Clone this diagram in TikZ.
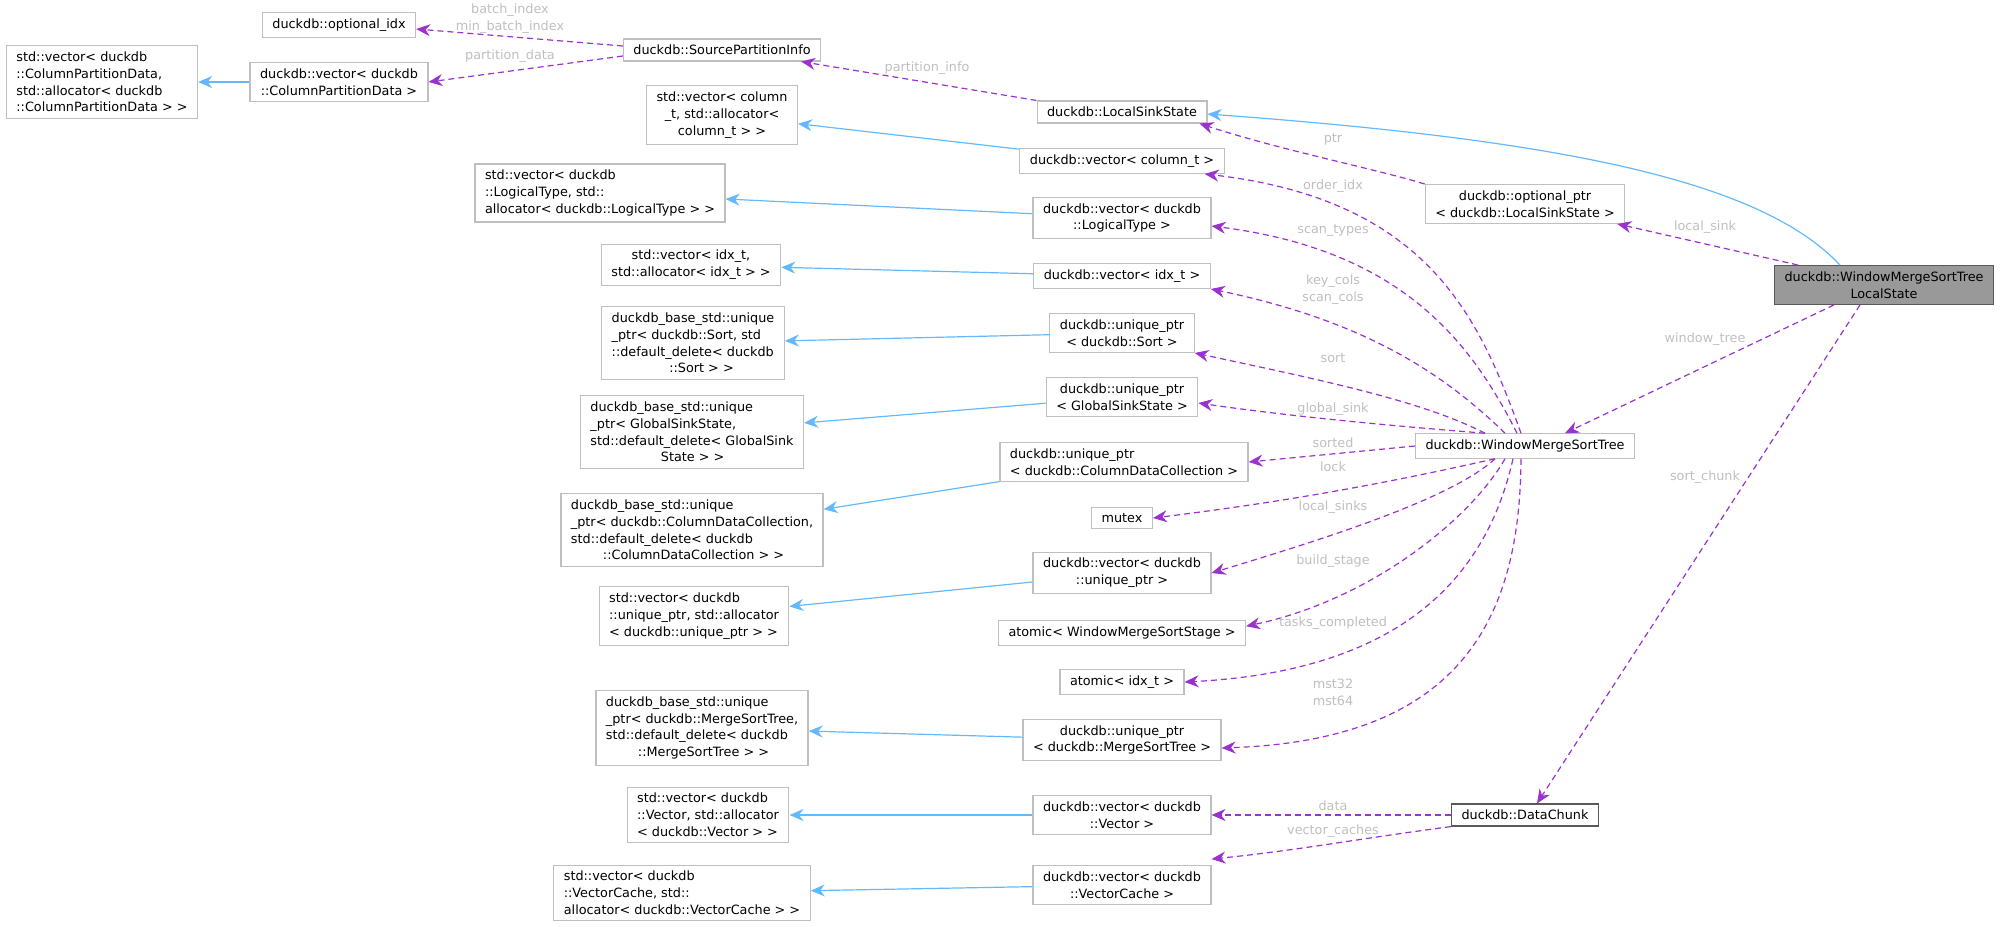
\documentclass[tikz,border=0pt]{standalone}
\usepackage{fontspec}
\setmainfont{DejaVu Sans}
\usetikzlibrary{arrows.meta}
\definecolor{purp}{HTML}{9A32CD}
\definecolor{blu}{HTML}{63B8FF}
\definecolor{bord}{HTML}{BFBFBF}
\definecolor{lbl}{HTML}{BFBFBF}
\begin{document}
\begin{tikzpicture}[x=0.5pt,y=-0.5pt,
  every node/.style={font=\fontsize{6.4}{8.4}\selectfont},
  box/.style={draw=bord, line width=0.6pt, fill=white, align=center, inner xsep=5pt, inner ysep=3pt},
  boxl/.style={box, align=left},
  lab/.style={text=lbl, align=center, inner sep=0pt},
  inh/.style={draw=blu, line width=0.6pt, -{Stealth[length=7pt,width=6pt]}},
  mem/.style={draw=purp, line width=0.6pt, dash pattern=on 3pt off 2pt, -{Stealth[length=7pt,width=6pt]}}]
\useasboundingbox (0,0) rectangle (2000,926);
% right side
\node[box, fill=gray!80!white, draw=gray!70!black] (ls) at (1884,285) {duckdb::WindowMergeSortTree\\LocalState};
\node[box] (wm) at (1525,446) {duckdb::WindowMergeSortTree};
\node[box, draw=gray!70!black] (dc) at (1525,815) {duckdb::DataChunk};
\node[box] (op) at (1525,204) {duckdb::optional\_ptr\\< duckdb::LocalSinkState >};
\node[box] (lss) at (1122,112) {duckdb::LocalSinkState};
\node[box] (spi) at (722,50) {duckdb::SourcePartitionInfo};
\node[box] (oidx) at (339,25) {duckdb::optional\_idx};
\node[box] (vcpd) at (339,82) {duckdb::vector< duckdb\\::ColumnPartitionData >};
\node[boxl] (svcpd) at (102,82) {std::vector< duckdb\\::ColumnPartitionData,\\ std::allocator< duckdb\\::ColumnPartitionData > >};
% middle column
\node[box] (vct) at (1122,161) {duckdb::vector< column\_t >};
\node[box] (vlt) at (1122,218) {duckdb::vector< duckdb\\::LogicalType >};
\node[box] (vit) at (1122,276) {duckdb::vector< idx\_t >};
\node[box] (ups) at (1122,333) {duckdb::unique\_ptr\\< duckdb::Sort >};
\node[box] (upg) at (1122,397) {duckdb::unique\_ptr\\< GlobalSinkState >};
\node[boxl] (upc) at (1124,462) {duckdb::unique\_ptr\\< duckdb::ColumnDataCollection >};
\node[box] (mtx) at (1122,518) {mutex};
\node[box] (vup) at (1122,573) {duckdb::vector< duckdb\\::unique\_ptr >};
\node[box] (aws) at (1122,633) {atomic< WindowMergeSortStage >};
\node[box] (ait) at (1122,682) {atomic< idx\_t >};
\node[box] (upm) at (1122,740) {duckdb::unique\_ptr\\< duckdb::MergeSortTree >};
\node[box] (vv) at (1122,815) {duckdb::vector< duckdb\\::Vector >};
\node[box] (vvc) at (1122,885) {duckdb::vector< duckdb\\::VectorCache >};
% left column
\node[box] (svct) at (722,115) {std::vector< column\\\_t, std::allocator<\\ column\_t > >};
\node[boxl] (svlt) at (600,193) {std::vector< duckdb\\::LogicalType, std::\\allocator< duckdb::LogicalType > >};
\node[box] (svit) at (691,265) {std::vector< idx\_t,\\ std::allocator< idx\_t > >};
\node[boxl] (bups) at (693,343) {duckdb\_base\_std::unique\\\_ptr< duckdb::Sort, std\\::default\_delete< duckdb\\\hspace*{4.5em}::Sort > >};
\node[boxl] (bupg) at (692,432) {duckdb\_base\_std::unique\\\_ptr< GlobalSinkState,\\ std::default\_delete< GlobalSink\\\hspace*{5.5em}State > >};
\node[boxl] (bupc) at (692,530) {duckdb\_base\_std::unique\\\_ptr< duckdb::ColumnDataCollection,\\ std::default\_delete< duckdb\\\hspace*{2.5em}::ColumnDataCollection > >};
\node[boxl] (svup) at (694,616) {std::vector< duckdb\\::unique\_ptr, std::allocator\\< duckdb::unique\_ptr > >};
\node[boxl] (bupm) at (702,728) {duckdb\_base\_std::unique\\\_ptr< duckdb::MergeSortTree,\\ std::default\_delete< duckdb\\\hspace*{2.5em}::MergeSortTree > >};
\node[boxl] (svv) at (708,815) {std::vector< duckdb\\::Vector, std::allocator\\< duckdb::Vector > >};
\node[boxl] (svvc) at (682,893) {std::vector< duckdb\\::VectorCache, std::\\allocator< duckdb::VectorCache > >};
% inheritance
\draw[inh] ([xshift=-22pt]ls.north) .. controls (1760,180) and (1560,140) .. ([yshift=-1pt]lss.east);
\draw[inh] (vcpd) -- (svcpd);
\draw[inh] (vct) -- (svct);
\draw[inh] (vlt) -- (svlt);
\draw[inh] (vit) -- (svit);
\draw[inh] (ups) -- (bups);
\draw[inh] (upg) -- (bupg);
\draw[inh] (upc) -- (bupc);
\draw[inh] (vup) -- (svup);
\draw[inh] (upm) -- (bupm);
\draw[inh] (vv) -- (svv);
\draw[inh] (vvc) -- (svvc);
% members
\draw[mem] ([yshift=2pt]spi.west) -- ([yshift=-2pt]oidx.east);
\draw[mem] ([yshift=-3pt]spi.west) -- (vcpd.east);
\draw[mem] (lss.north west) -- ([xshift=-10pt]spi.south east);
\draw[mem] (op.north west) .. controls (1380,170) and (1280,150) .. ([xshift=-4pt]lss.south east);
\draw[mem] ([xshift=12pt]ls.north west) -- ([xshift=-4pt]op.south east);
\draw[mem] ([xshift=30pt]ls.south west) -- ([xshift=20pt]wm.north);
\draw[mem] ([xshift=-12pt]ls.south) -- ([xshift=6pt]dc.north);
\draw[mem] ([xshift=-2pt]wm.north) .. controls (1480,320) and (1430,200) .. ([xshift=-10pt]vct.south east);
\draw[mem] ([xshift=-4pt]wm.north) .. controls (1470,340) and (1400,250) .. ([yshift=-4pt]vlt.east);
\draw[mem] ([xshift=-10pt]wm.north) .. controls (1440,370) and (1360,320) .. (vit.south east);
\draw[mem] ([xshift=-20pt]wm.north) .. controls (1420,400) and (1320,380) .. (ups.south east);
\draw[mem] ([xshift=35pt]wm.north west) .. controls (1380,425) and (1280,415) .. ([yshift=-3pt]upg.east);
\draw[mem] (wm.west) -- (upc.east);
\draw[mem] ([xshift=40pt]wm.south west) .. controls (1400,480) and (1300,500) .. (mtx.east);
\draw[mem] ([xshift=-15pt]wm.south) .. controls (1450,500) and (1320,540) .. (vup.east);
\draw[mem] ([xshift=-10pt]wm.south) .. controls (1470,520) and (1370,600) .. ([yshift=-3pt]aws.north east);
\draw[mem] ([xshift=-6pt]wm.south) .. controls (1490,560) and (1420,670) .. (ait.east);
\draw[mem] ([xshift=-2pt]wm.south) .. controls (1520,620) and (1460,740) .. ([yshift=-4pt]upm.east);
\draw[mem] (dc.west) -- (vv.east);
\draw[mem] (dc.south west) .. controls (1350,840) and (1300,850) .. ([yshift=3pt]vvc.north east);
% labels
\node[lab] (l1) at (510,19) {batch\_index\\min\_batch\_index};
\node[lab] (l2) at (510,56) {partition\_data};
\node[lab] (l3) at (927,68) {partition\_info};
\node[lab] (l4) at (1333,139) {ptr};
\node[lab] (l5) at (1705,227) {local\_sink};
\node[lab] (l6) at (1705,339) {window\_tree};
\node[lab] (l7) at (1705,477) {sort\_chunk};
\node[lab] (l8) at (1333,186) {order\_idx};
\node[lab] (l9) at (1333,231) {scan\_types};
\node[lab] (l10) at (1333,290) {key\_cols\\scan\_cols};
\node[lab] (l11) at (1333,358) {sort};
\node[lab] (l12) at (1333,409) {global\_sink};
\node[lab] (l13) at (1333,443) {sorted};
\node[lab] (l14) at (1333,467) {lock};
\node[lab] (l15) at (1333,507) {local\_sinks};
\node[lab] (l16) at (1333,561) {build\_stage};
\node[lab] (l17) at (1333,623) {tasks\_completed};
\node[lab] (l18) at (1333,692) {mst32\\mst64};
\node[lab] (l19) at (1333,806) {data};
\node[lab] (l20) at (1333,831) {vector\_caches};
\end{tikzpicture}
\end{document}
